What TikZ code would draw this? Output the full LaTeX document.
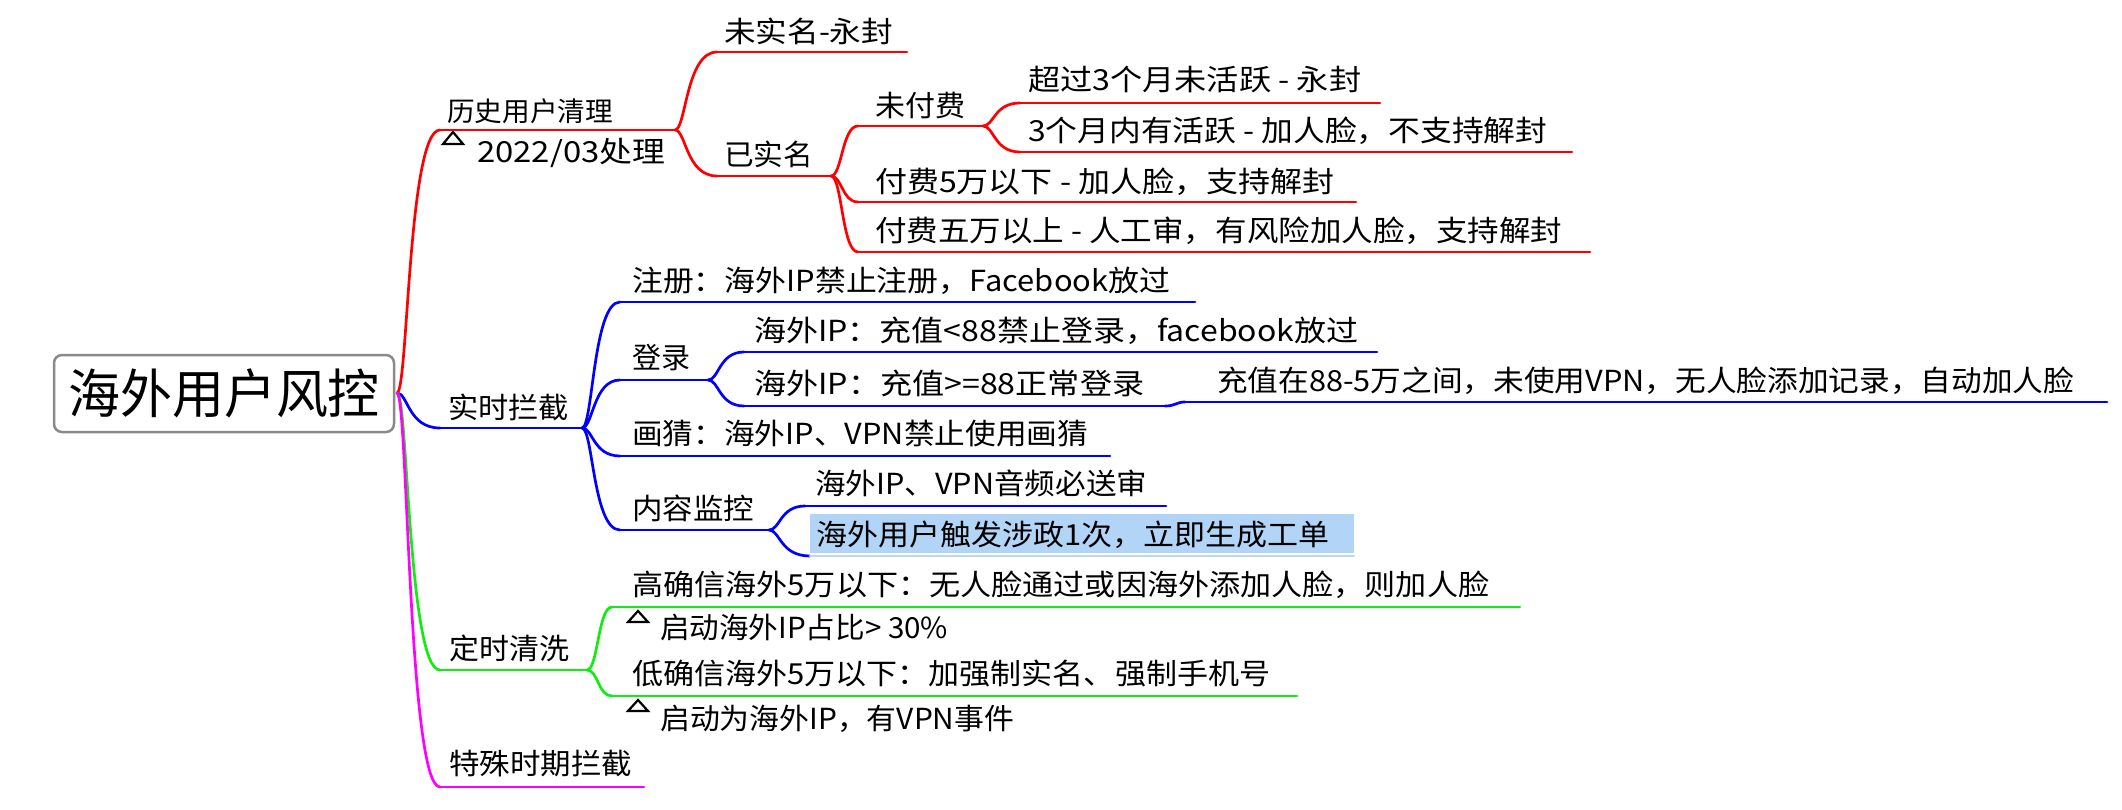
\documentclass[tikz,border=0pt]{standalone}
\usepackage{fontspec}
\setmainfont{Noto Sans CJK SC}
\usepackage{graphicx}
\usetikzlibrary{calc}
\definecolor{cred}{RGB}{255,0,0}
\definecolor{cblue}{RGB}{0,0,255}
\definecolor{cgreen}{RGB}{20,235,20}
\definecolor{cmag}{RGB}{255,0,255}
\definecolor{hl}{RGB}{178,212,246}
\definecolor{hlline}{RGB}{190,214,240}
\definecolor{rootgray}{RGB}{138,138,138}
\newcommand\fitw[2]{\resizebox{#1pt}{\height}{#2}}
\newcommand\conn[3]{\draw[link,#1] let \p1=(#2), \p2=(#3) in (\p1) .. controls ({\x1+11pt},\y1) and ({\x1+11pt},\y2) .. (\p2);}
\newcommand\uline[2]{\draw[link,#1] (#2-s) -- (#2-e);}
\begin{document}
\begin{tikzpicture}[x=1pt,y=-1pt,
  t/.style={anchor=west, inner sep=0pt, font=\fontsize{29}{32}\selectfont, text height=24.4pt, text depth=2.3pt},
  lab/.style={t, font=\fontsize{29}{32}\selectfont},
  link/.style={line width=2.7pt, line cap=round},
  tri/.style={draw=black, line width=2.2pt, line join=miter}]
\fill[white] (0,0) rectangle (2122,810);
\useasboundingbox (0,0) rectangle (2122,810);

% root
\node[draw=rootgray, line width=2.5pt, rounded corners=8pt, fill=white,
  minimum width=340pt, minimum height=77pt, inner sep=0pt,
  font=\fontsize{53}{60}\selectfont, text height=44.5pt, text depth=4.2pt]
  (root) at (224,393.5) {\fitw{312}{海外用户风控}\hspace{10pt}};
\coordinate (R) at (397,393);

% level 1
\node[t, font=\fontsize{27}{30}\selectfont] (A) at (447,110) {\fitw{166}{历史用户清理}};
\coordinate (A-s) at (440,130); \coordinate (A-e) at (675,130);
\draw[tri] (443,144) -- (463,144) -- (453,132) -- cycle;
\node[lab] (LA) at (477,151) {\fitw{188}{2022/03处理}};

\node[t] (B) at (448,407) {\fitw{121}{实时拦截}};
\coordinate (B-s) at (440,428); \coordinate (B-e) at (582,428);
\node[t] (C) at (449,648) {\fitw{120}{定时清洗}};
\coordinate (C-s) at (440,670); \coordinate (C-e) at (587,670);
\node[t] (D) at (449,763) {\fitw{183}{特殊时期拦截}};
\coordinate (D-s) at (440,787); \coordinate (D-e) at (644,787);

% A subtree
\node[t] (A1) at (724,31) {\fitw{169}{未实名-永封}};
\coordinate (A1-s) at (717,52); \coordinate (A1-e) at (907,52);
\node[t] (A2) at (724,154) {\fitw{89}{已实名}};
\coordinate (A2-s) at (717,176); \coordinate (A2-e) at (831,176);
\node[t] (A21) at (875,105) {\fitw{90}{未付费}};
\coordinate (A21-s) at (858,126); \coordinate (A21-e) at (983,126);
\node[t] (A22) at (875,181) {\fitw{459}{付费5万以下 - 加人脸，支持解封}};
\coordinate (A22-s) at (858,202); \coordinate (A22-e) at (1356,202);
\node[t] (A23) at (875,230) {\fitw{687}{付费五万以上 - 人工审，有风险加人脸，支持解封}};
\coordinate (A23-s) at (858,252); \coordinate (A23-e) at (1590,252);
\node[t] (A211) at (1028,79) {\fitw{333}{超过3个月未活跃 - 永封}};
\coordinate (A211-s) at (1020,103); \coordinate (A211-e) at (1380,103);
\node[t] (A212) at (1028,130) {\fitw{519}{3个月内有活跃 - 加人脸，不支持解封}};
\coordinate (A212-s) at (1020,152); \coordinate (A212-e) at (1572,152);

% B subtree
\node[t] (B1) at (632,280) {\fitw{538}{注册：海外IP禁止注册，Facebook放过}};
\coordinate (B1-s) at (620,302); \coordinate (B1-e) at (1195,302);
\node[t] (B2) at (632,357) {\fitw{58}{登录}};
\coordinate (B2-s) at (620,380); \coordinate (B2-e) at (708,380);
\node[t] (B3) at (632,433) {\fitw{456}{画猜：海外IP、VPN禁止使用画猜}};
\coordinate (B3-s) at (620,456); \coordinate (B3-e) at (1110,456);
\node[t] (B4) at (632,508) {\fitw{122}{内容监控}};
\coordinate (B4-s) at (620,530); \coordinate (B4-e) at (769,530);
\node[t] (B21) at (754,330) {\fitw{604}{海外IP：充值<88禁止登录，facebook放过}};
\coordinate (B21-s) at (744,352); \coordinate (B21-e) at (1377,352);
\node[t] (B22) at (754,383) {\fitw{390}{海外IP：充值>=88正常登录}};
\coordinate (B22-s) at (744,406); \coordinate (B22-e) at (1165,406);
\node[t] (B221) at (1217,380) {\fitw{857}{充值在88-5万之间，未使用VPN，无人脸添加记录，自动加人脸}};
\coordinate (B221-s) at (1185,402); \coordinate (B221-e) at (2107,402);
\node[t] (B41) at (815,483) {\fitw{332}{海外IP、VPN音频必送审}};
\coordinate (B41-s) at (805,506); \coordinate (B41-e) at (1166,506);
\fill[hl] (810,514) rectangle (1354,553);
\node[t] (B42) at (816,534) {\fitw{513}{海外用户触发涉政1次，立即生成工单}};
\coordinate (B42-s) at (810,556); \coordinate (B42-e) at (1354,556);

% C subtree
\node[t] (C1) at (632,584) {\fitw{857}{高确信海外5万以下：无人脸通过或因海外添加人脸，则加人脸}};
\coordinate (C1-s) at (612,607); \coordinate (C1-e) at (1520,607);
\draw[tri] (628,622) -- (648,622) -- (638,611) -- cycle;
\node[lab] (LC1) at (660,627) {\fitw{288}{启动海外IP占比> 30\%}};
\node[t] (C2) at (632,673) {\fitw{638}{低确信海外5万以下：加强制实名、强制手机号}};
\coordinate (C2-s) at (612,696); \coordinate (C2-e) at (1297,696);
\draw[tri] (628,711) -- (648,711) -- (638,700) -- cycle;
\node[lab] (LC2) at (660,718) {\fitw{354}{启动为海外IP，有VPN事件}};

% connectors and underlines
\conn{cred}{R}{A-s} \uline{cred}{A}
\conn{cblue}{R}{B-s} \uline{cblue}{B}
\conn{cgreen}{R}{C-s} \uline{cgreen}{C}
\conn{cmag}{R}{D-s} \uline{cmag}{D}

\conn{cred}{A-e}{A1-s} \uline{cred}{A1}
\conn{cred}{A-e}{A2-s} \uline{cred}{A2}
\conn{cred}{A2-e}{A21-s} \uline{cred}{A21}
\conn{cred}{A2-e}{A22-s} \uline{cred}{A22}
\conn{cred}{A2-e}{A23-s} \uline{cred}{A23}
\conn{cred}{A21-e}{A211-s} \uline{cred}{A211}
\conn{cred}{A21-e}{A212-s} \uline{cred}{A212}

\conn{cblue}{B-e}{B1-s} \uline{cblue}{B1}
\conn{cblue}{B-e}{B2-s} \uline{cblue}{B2}
\conn{cblue}{B-e}{B3-s} \uline{cblue}{B3}
\conn{cblue}{B-e}{B4-s} \uline{cblue}{B4}
\conn{cblue}{B2-e}{B21-s} \uline{cblue}{B21}
\conn{cblue}{B2-e}{B22-s} \uline{cblue}{B22}
\conn{cblue}{B22-e}{B221-s} \uline{cblue}{B221}
\conn{cblue}{B4-e}{B41-s} \uline{cblue}{B41}
\conn{cblue}{B4-e}{B42-s} \uline{hlline}{B42}

\conn{cgreen}{C-e}{C1-s} \uline{cgreen}{C1}
\conn{cgreen}{C-e}{C2-s} \uline{cgreen}{C2}
\end{tikzpicture}
\end{document}
